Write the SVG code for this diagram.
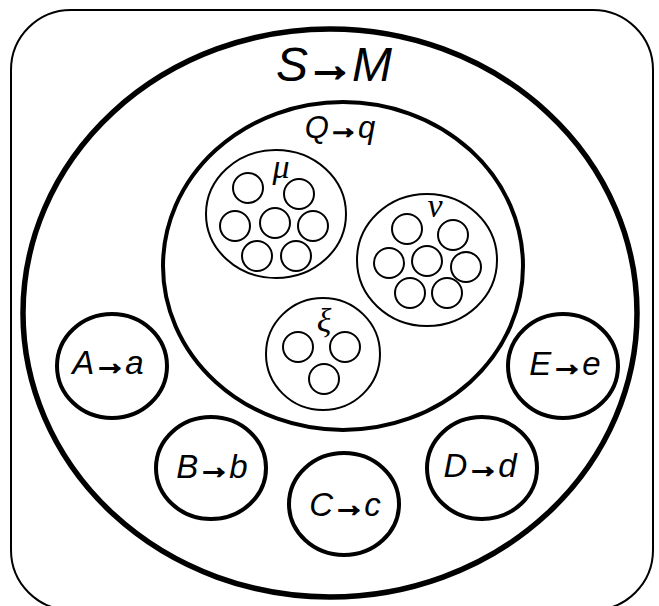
<svg xmlns="http://www.w3.org/2000/svg" width="659" height="606" viewBox="0 0 659 606">
<style>
.frame{fill:none;stroke:#000;stroke-width:2}
.big{fill:none;stroke:#000;stroke-width:5.5}
.q{fill:none;stroke:#000;stroke-width:4}
.grp{fill:#fff;stroke:#000;stroke-width:2}
.sm{fill:#fff;stroke:#000;stroke-width:2}
.node{fill:#fff;stroke:#000;stroke-width:4}
.lab{font-family:"Liberation Sans",Arial,sans-serif;font-style:italic;text-anchor:middle;fill:#000}
.arr{font-style:normal;font-weight:bold;stroke:#000;stroke-width:1.8;stroke-linejoin:miter}
.gk{font-family:"Liberation Serif","Times New Roman",serif;font-style:italic;text-anchor:middle;fill:#000;font-size:34px}
</style>
<rect class="frame" x="11" y="10" width="642" height="600" rx="60" ry="60"/>
<g id="S">
<ellipse class="big" cx="330" cy="313" rx="307" ry="284"/>
<text class="lab" x="334" y="81" font-size="48">S<tspan class="arr" dx="-2">→</tspan><tspan dx="-2">M</tspan></text>
</g>
<g id="Q">
<ellipse class="q" cx="343" cy="266" rx="180" ry="164"/>
<text class="lab" x="340" y="138" font-size="31">Q<tspan class="arr" dx="-1">→</tspan><tspan dx="-1">q</tspan></text>
</g>
<g id="mu">
<ellipse class="grp" cx="276" cy="214" rx="70" ry="64"/>
<text class="gk" x="281" y="178">μ</text>
<circle class="sm" cx="248" cy="188" r="15"/>
<circle class="sm" cx="299" cy="194" r="15"/>
<circle class="sm" cx="235" cy="226" r="15"/>
<circle class="sm" cx="275" cy="223" r="15"/>
<circle class="sm" cx="313" cy="226" r="15"/>
<circle class="sm" cx="257" cy="256" r="15"/>
<circle class="sm" cx="296" cy="256" r="15"/>
</g>
<g id="nu">
<ellipse class="grp" cx="427" cy="260" rx="70" ry="66"/>
<text class="gk" x="435" y="217">ν</text>
<circle class="sm" cx="407" cy="229" r="15"/>
<circle class="sm" cx="453" cy="235" r="15"/>
<circle class="sm" cx="389" cy="263" r="15"/>
<circle class="sm" cx="427" cy="261" r="15"/>
<circle class="sm" cx="466" cy="267" r="15"/>
<circle class="sm" cx="410" cy="293" r="15"/>
<circle class="sm" cx="447" cy="293" r="15"/>
</g>
<g id="xi">
<ellipse class="grp" cx="323" cy="354" rx="57" ry="56"/>
<text class="gk" x="324" y="332">ξ</text>
<circle class="sm" cx="298" cy="347" r="15"/>
<circle class="sm" cx="345" cy="347" r="15"/>
<circle class="sm" cx="324" cy="379" r="15"/>
</g>
<g id="A">
<ellipse class="node" cx="112" cy="366" rx="55" ry="52"/>
<text class="lab" x="108" y="374" font-size="33">A<tspan class="arr" dx="-1">→</tspan><tspan dx="-1">a</tspan></text>
</g>
<g id="B">
<ellipse class="node" cx="211" cy="468" rx="55" ry="51"/>
<text class="lab" x="212" y="478" font-size="33">B<tspan class="arr" dx="-1">→</tspan><tspan dx="-1">b</tspan></text>
</g>
<g id="C">
<ellipse class="node" cx="344" cy="504" rx="55" ry="51"/>
<text class="lab" x="345" y="516" font-size="33">C<tspan class="arr" dx="-1">→</tspan><tspan dx="-1">c</tspan></text>
</g>
<g id="D">
<ellipse class="node" cx="482" cy="468" rx="55" ry="51"/>
<text class="lab" x="480" y="477" font-size="33">D<tspan class="arr" dx="-1">→</tspan><tspan dx="-1">d</tspan></text>
</g>
<g id="E">
<ellipse class="node" cx="563" cy="366" rx="55" ry="52"/>
<text class="lab" x="565" y="375" font-size="33">E<tspan class="arr" dx="-1">→</tspan><tspan dx="-1">e</tspan></text>
</g>
<g id="connectors"/>
</svg>
